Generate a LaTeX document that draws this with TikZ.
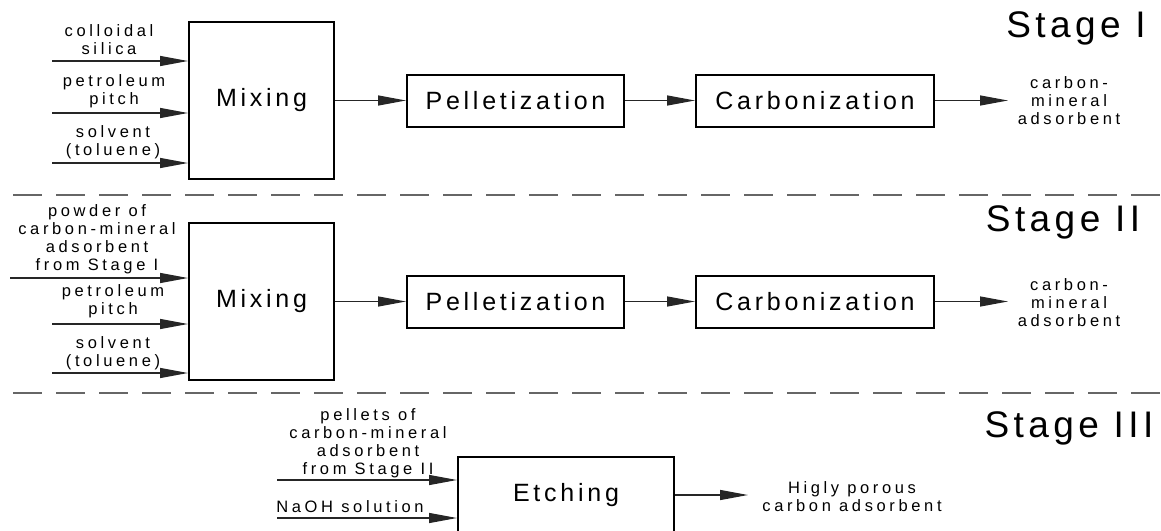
\documentclass[tikz,border=0pt]{standalone}
\usepackage{fontspec}
\setmainfont{Liberation Sans}
\newfontfamily\lblfont[LetterSpace=22]{Liberation Sans}
\newfontfamily\boxfont[LetterSpace=15]{Liberation Sans}
\newfontfamily\stagefont[LetterSpace=12]{Liberation Sans}
\usetikzlibrary{positioning, arrows.meta}
\tikzset{
  LBL/.style={align=center, inner sep=0pt, font=\lblfont\fontsize{16.5}{18}\selectfont},
  B/.style={draw, line width=2pt, inner sep=0pt, font=\boxfont\fontsize{25}{30}\selectfont},
  MIXB/.style={B, minimum width=145pt, minimum height=157pt},
  PELB/.style={B, minimum width=217pt, minimum height=52pt},
  CARB/.style={B, minimum width=238pt, minimum height=52pt},
  STG/.style={inner sep=0pt, font=\stagefont\fontsize{37}{42}\selectfont},
  AR/.style={-{Triangle[length=28pt, width=10pt]}, line width=1.3pt, black!85},
  SEP/.style={line width=1.4pt, black!60, dash pattern=on 29pt off 14pt},
}
\newcommand{\hflow}[2]{\draw[AR] (#1.east) -- (#2.west);}
\newcommand{\feed}[2]{\draw[AR] (#1) -- (#1 -| #2.west);}

\begin{document}
\begin{tikzpicture}[x=1pt, y=1pt, yscale=-1]

\clip (0,0) rectangle (1161,530);

%% Stage I
\node[MIXB] (MIX1) at (261.5,100.5) {Mixing};
\node[PELB, right=71pt of MIX1] (PEL1) {Pelletization};
\node[CARB, right=70pt of PEL1] (CAR1) {Carbonization};
\coordinate[right=73pt of CAR1] (OUT1);
\node[LBL] (PROD1) at (1069,101) {carbon-\\mineral\\adsorbent};
\node[STG] (ST1) at (1076,28) {Stage I};

\coordinate (IN11) at (52,61);
\coordinate (IN12) at (52,113);
\coordinate (IN13) at (52,163);
\node[LBL] (L11) at (109,40) {colloidal\\silica};
\node[LBL] (L12) at (114,91) {petroleum\\pitch};
\node[LBL] (L13) at (113,142.5) {solvent\\(toluene)};

\feed{IN11}{MIX1}
\feed{IN12}{MIX1}
\feed{IN13}{MIX1}
\hflow{MIX1}{PEL1}
\hflow{PEL1}{CAR1}
\draw[AR] (CAR1.east) -- (OUT1);

\draw[SEP] (13,195) -- (1161,195);

%% Stage II
\node[MIXB] (MIX2) at (261.5,301.5) {Mixing};
\node[PELB, right=71pt of MIX2] (PEL2) {Pelletization};
\node[CARB, right=70pt of PEL2] (CAR2) {Carbonization};
\coordinate[right=73pt of CAR2] (OUT2);
\node[LBL] (PROD2) at (1069,303) {carbon-\\mineral\\adsorbent};
\node[STG] (ST2) at (1063,222) {Stage II};

\coordinate (IN21) at (10,278);
\coordinate (IN22) at (52,324);
\coordinate (IN23) at (52,373);
\node[LBL] (L21) at (97,239.5) {powder of\\carbon-mineral\\adsorbent\\from Stage I};
\node[LBL] (L22) at (113,301.5) {petroleum\\pitch};
\node[LBL] (L23) at (113,353) {solvent\\(toluene)};

\feed{IN21}{MIX2}
\feed{IN22}{MIX2}
\feed{IN23}{MIX2}
\hflow{MIX2}{PEL2}
\hflow{PEL2}{CAR2}
\draw[AR] (CAR2.east) -- (OUT2);

\draw[SEP] (13,393) -- (1161,393);

%% Stage III
\node[B, minimum width=216pt, minimum height=76pt] (ETC) at (566,495) {Etching};
\coordinate[right=73pt of ETC] (OUT3);
\node[LBL] (PROD3) at (852,496.5) {Higly porous\\carbon adsorbent};
\node[STG] (ST3) at (1069,428) {Stage III};

\coordinate (IN31) at (277,480);
\coordinate (IN32) at (277,518);
\node[LBL] (L31) at (368,443.5) {pellets of\\carbon-mineral\\adsorbent\\from Stage II};
\node[LBL] (L32) at (350,507) {NaOH solution};

\feed{IN31}{ETC}
\feed{IN32}{ETC}
\draw[AR] (ETC.east) -- (OUT3);

\end{tikzpicture}
\end{document}
